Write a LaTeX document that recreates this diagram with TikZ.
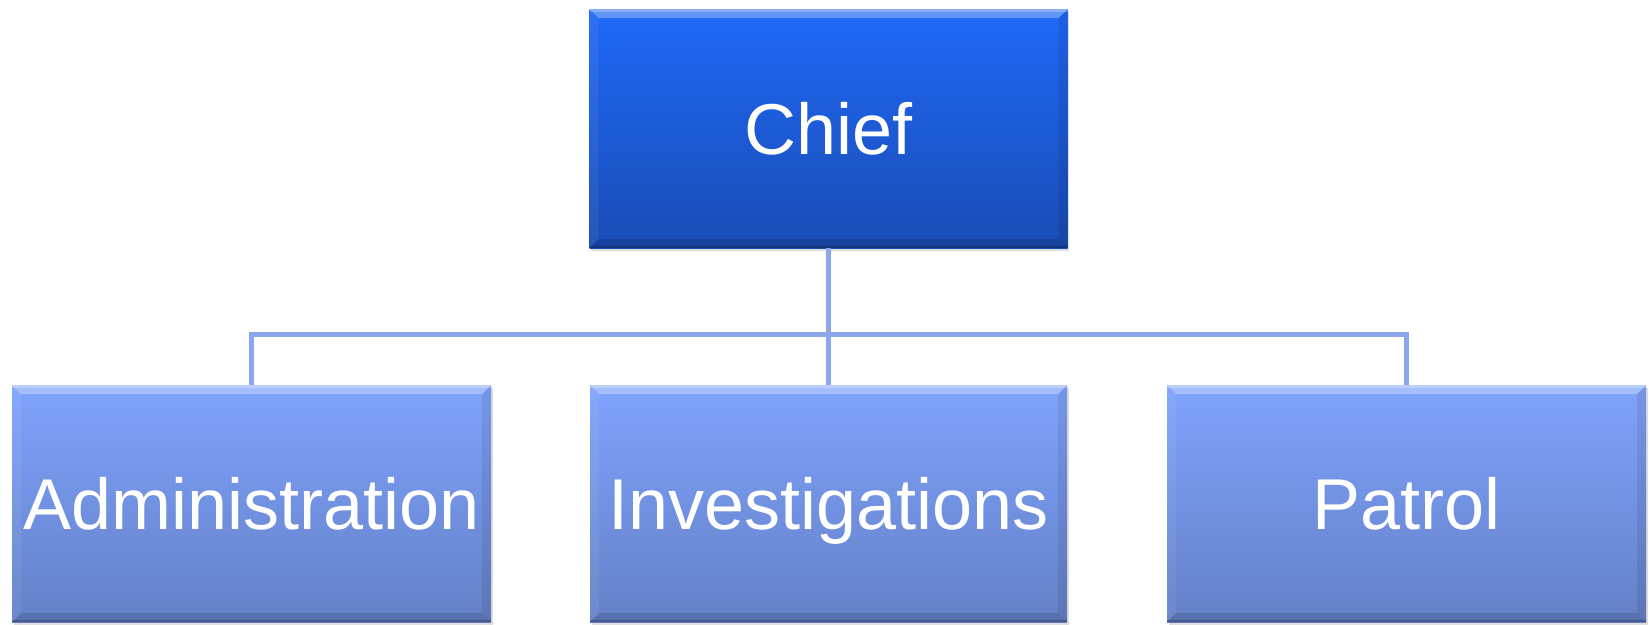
\documentclass[tikz,border=0pt]{standalone}
\usepackage{fontspec}
\setmainfont{Liberation Sans}
\usetikzlibrary{shadows}
\definecolor{chieftop}{HTML}{1F69F8}
\definecolor{chiefbot}{HTML}{1A4CB4}
\definecolor{unittop}{HTML}{7FA3FD}
\definecolor{unitbot}{HTML}{6480C6}
\definecolor{conncol}{HTML}{8BA7EA}
\tikzset{
  bevelbox/.style={rectangle, inner sep=0pt, minimum width=478pt, minimum height=238pt,
    text=white, font=\fontsize{72}{80}\selectfont, text height=52pt, text depth=0pt,
    drop shadow={shadow xshift=1.5pt, shadow yshift=-3pt, opacity=0.18, fill=black!70},
    path picture={
      \fill[white,opacity=0.3] (path picture bounding box.north west) -- (path picture bounding box.north east)
        -- ([xshift=-9pt,yshift=-9pt]path picture bounding box.north east) -- ([xshift=9pt,yshift=-9pt]path picture bounding box.north west) -- cycle;
      \fill[white,opacity=0.25] (path picture bounding box.north west) rectangle ([yshift=-3pt]path picture bounding box.north east);
      \fill[white,opacity=0.06] (path picture bounding box.north west) -- ([xshift=9pt,yshift=-9pt]path picture bounding box.north west)
        -- ([xshift=9pt,yshift=9pt]path picture bounding box.south west) -- (path picture bounding box.south west) -- cycle;
      \fill[black,opacity=0.08] (path picture bounding box.north east) -- ([xshift=-9pt,yshift=-9pt]path picture bounding box.north east)
        -- ([xshift=-9pt,yshift=9pt]path picture bounding box.south east) -- (path picture bounding box.south east) -- cycle;
      \fill[black,opacity=0.12] (path picture bounding box.south west) -- ([xshift=9pt,yshift=9pt]path picture bounding box.south west)
        -- ([xshift=-9pt,yshift=9pt]path picture bounding box.south east) -- (path picture bounding box.south east) -- cycle;
      \fill[black,opacity=0.2] (path picture bounding box.south west) rectangle ([yshift=2.5pt]path picture bounding box.south east);
    }},
  chiefbox/.style={bevelbox, top color=chieftop, bottom color=chiefbot},
  unitbox/.style={bevelbox, top color=unittop, bottom color=unitbot},
  conn/.style={draw=conncol, line width=5pt}
}
\begin{document}
\begin{tikzpicture}[x=1pt,y=-1pt]
\useasboundingbox[fill=white] (0,0) rectangle (1649,624);
\node[unitbox, minimum width=479pt, minimum height=237pt] (admin) at (251.5,503.5) {Administration};
\node[unitbox, minimum width=477pt, minimum height=237pt] (inv) at (828.5,503.5) {Investigations};
\node[unitbox, minimum width=479pt, minimum height=237pt] (patrol) at (1406.5,503.5) {Patrol};
\node[chiefbox, minimum width=478pt, minimum height=239pt] (chief) at (828.5,128.5) {Chief};
\begin{pgfonlayer}{main}
\end{pgfonlayer}
\draw[conn] (admin.north) -- ++(0,-50) -| (patrol.north);
\draw[conn] (chief.south) -- (inv.north);
\end{tikzpicture}
\end{document}
